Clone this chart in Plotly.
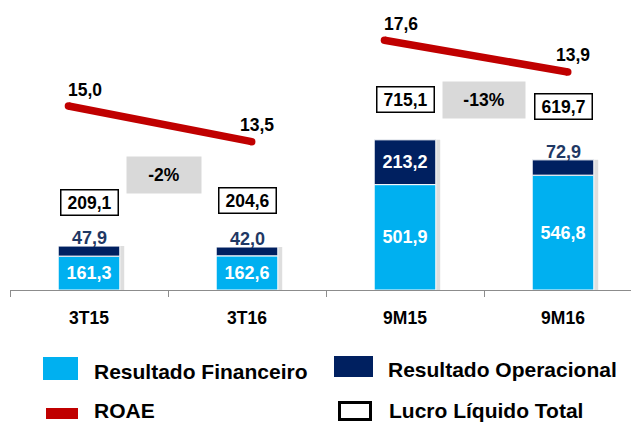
import plotly.graph_objects as go

# ---------------- data ----------------
categories = ["3T15", "3T16", "9M15", "9M16"]
resultado_financeiro = [161.3, 162.6, 501.9, 546.8]
resultado_operacional = [47.9, 42.0, 213.2, 72.9]
lucro_liquido_total = [209.1, 204.6, 715.1, 619.7]
roae_3t = [15.0, 13.5]
roae_9m = [17.6, 13.9]
series_names = ["Resultado Financeiro", "Resultado Operacional", "ROAE", "Lucro Líquido Total"]

# ---------------- style / layout ----------------
W, H = 631, 423
ML, MR, MT, MB = 10, 0, 0, 133
PW, PH = W - ML - MR, H - MT - MB
CAT_PX = 158.0
BW = 0.39
S_OFF, E_OFF = -0.13, 0.03
C_FIN, C_OP, C_ROAE = "#00B0F0", "#002060", "#C00000"
FONT = "Liberation Sans, Arial, sans-serif"


def pxx(x):
    return (x - ML) / PW


def pxy(y):
    return (MT + PH - y) / PH


def fmt(v):
    return f"{v:.1f}".replace(".", ",")


xs = list(range(len(categories)))
stack_top = [a + b for a, b in zip(resultado_financeiro, resultado_operacional)]

fig = go.Figure()

# shadow
fig.add_trace(go.Bar(
    x=xs, y=stack_top, width=BW, offset=-BW / 2 + 0.028,
    marker=dict(color="rgba(0,0,0,0.13)", line=dict(width=0)),
    hoverinfo="skip", showlegend=False))

fig.add_trace(go.Bar(
    x=xs, y=resultado_financeiro, width=BW, name=series_names[0],
    marker=dict(color=C_FIN, line=dict(color="white", width=1)),
    text=[fmt(v) for v in resultado_financeiro], textposition="inside",
    insidetextanchor="middle", textangle=0, constraintext="none",
    textfont=dict(family=FONT, size=18, color="white", weight="bold"),
    showlegend=False))

op_inside = [v > 100 for v in resultado_operacional]
fig.add_trace(go.Bar(
    x=xs, y=resultado_operacional, base=resultado_financeiro, width=BW,
    name=series_names[1],
    marker=dict(color=C_OP, line=dict(color="white", width=1)),
    text=[fmt(v) if ins else "" for v, ins in zip(resultado_operacional, op_inside)],
    textposition="inside", insidetextanchor="middle", textangle=0, constraintext="none",
    textfont=dict(family=FONT, size=18, weight="bold", color="white"),
    showlegend=False))

line_sets = [(roae_3t, 0, "y2"), (roae_9m, 2, "y3")]
for vals, i0, ax in line_sets:
    fig.add_trace(go.Scatter(
        x=[i0 + S_OFF, i0 + 1 + E_OFF], y=vals, yaxis=ax, name=series_names[2],
        mode="lines+markers", line=dict(color=C_ROAE, width=7.5),
        marker=dict(color=C_ROAE, size=7.5), cliponaxis=False,
        hoverinfo="skip", showlegend=False))

annotations = []
lab_font = dict(family=FONT, size=17.5, color="black", weight="bold")

# outside labels of Resultado Operacional (small segments)
for i in xs:
    if not op_inside[i]:
        annotations.append(dict(x=i, y=stack_top[i], xref="x", yref="y",
                                text=fmt(resultado_operacional[i]), showarrow=False,
                                yanchor="bottom", yshift=-4,
                                font=dict(family=FONT, size=18, color="#1F3864", weight="bold")))

# ROAE labels
for vals, i0, ax in line_sets:
    annotations.append(dict(x=i0 + S_OFF, y=vals[0], xref="x", yref=ax, text=fmt(vals[0]),
                            showarrow=False, xshift=17, yshift=16, font=lab_font))
    annotations.append(dict(x=i0 + 1 + E_OFF, y=vals[1], xref="x", yref=ax, text=fmt(vals[1]),
                            showarrow=False, xshift=5, yshift=17, font=lab_font))

# Lucro Líquido Total boxes
box_shift = [44, 47, 40, 53]
for i in xs:
    annotations.append(dict(x=i, y=stack_top[i], xref="x", yref="y", text=fmt(lucro_liquido_total[i]),
                            showarrow=False, yshift=box_shift[i], yanchor="middle",
                            bgcolor="white", bordercolor="black", borderwidth=1.5,
                            borderpad=0, width=56, height=24, font=lab_font))

# variation boxes
var_y = [175, 100]
var_w = [74, 82]
var_dx = [-4, 0]
for k, (a, b) in enumerate([(0, 1), (2, 3)]):
    pct = round((lucro_liquido_total[b] / lucro_liquido_total[a] - 1) * 100)
    annotations.append(dict(x=(a + b) / 2, y=pxy(var_y[k]), xref="x", yref="paper",
                            text=f"{pct}%", showarrow=False, bgcolor="#D9D9D9",
                            xshift=var_dx[k], borderpad=0, width=var_w[k], height=36,
                            font=lab_font))

# legend (manual)
leg_font = dict(family=FONT, size=21, color="black", weight="bold")
leg_items = [(92, 372), (386, 369), (92, 410), (387, 410)]
for name, (lx, ly) in zip(series_names, leg_items):
    annotations.append(dict(x=pxx(lx), y=pxy(ly), xref="paper", yref="paper", text=name,
                            xanchor="left", yanchor="middle", showarrow=False, font=leg_font))

shapes = [
    dict(type="rect", xref="paper", yref="paper", x0=pxx(43), x1=pxx(78), y0=pxy(380), y1=pxy(357),
         fillcolor=C_FIN, line=dict(width=0)),
    dict(type="rect", xref="paper", yref="paper", x0=pxx(334), x1=pxx(373), y0=pxy(377), y1=pxy(356),
         fillcolor=C_OP, line=dict(width=0)),
    dict(type="rect", xref="paper", yref="paper", x0=pxx(46), x1=pxx(78), y0=pxy(419), y1=pxy(408),
         fillcolor=C_ROAE, line=dict(width=0)),
    dict(type="rect", xref="paper", yref="paper", x0=pxx(339.5), x1=pxx(370.5), y0=pxy(419.5),
         y1=pxy(402.5), fillcolor="white", line=dict(color="black", width=3)),
]

fig.update_layout(
    width=W, height=H, margin=dict(l=ML, r=MR, t=MT, b=MB),
    paper_bgcolor="white", plot_bgcolor="white", barmode="overlay",
    showlegend=False, annotations=annotations, shapes=shapes,
    xaxis=dict(range=[-0.5, -0.5 + PW / CAT_PX], tickmode="array", tickvals=xs,
               ticktext=categories, ticks="", showline=True, linecolor="#8C8C8C",
               linewidth=1, showgrid=False, zeroline=False, ticklabelstandoff=12,
               tickfont=dict(family=FONT, size=17.5, color="black", weight="bold"),
               minor=dict(tickmode="array", tickvals=[i - 0.5 for i in range(len(xs) + 1)],
                          ticks="outside", ticklen=6, tickcolor="#8C8C8C", tickwidth=1,
                          showgrid=False)),
    yaxis=dict(range=[0, PH / 0.21], visible=False, showgrid=False, zeroline=False),
    yaxis2=dict(range=[7.27, 19.45], overlaying="y", visible=False, showgrid=False),
    yaxis3=dict(range=[-11.54, 22.3], overlaying="y", visible=False, showgrid=False),
)

fig.write_html(
    "out.html",
    config={"displayModeBar": False},
    post_script="document.body.style.margin='0';document.body.style.overflow='hidden';",
)
